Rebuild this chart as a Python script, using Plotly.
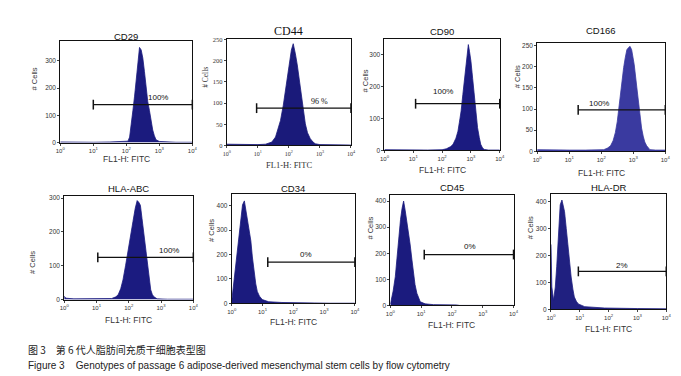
import numpy as np
import plotly.graph_objects as go

W, H = 681, 376

# ---- data (log10 FL1-H intensity, cell counts) ----
names = ["CD29", "CD44", "CD90", "CD166", "HLA-ABC", "CD34", "CD45", "HLA-DR"]

cd29_log = [0.0, 0.5, 1.0, 1.5, 1.9, 2.05, 2.1, 2.15, 2.2, 2.25, 2.3, 2.35, 2.4, 2.45, 2.5, 2.55, 2.6, 2.65, 2.7, 2.75, 2.8, 2.85, 2.9, 3.0, 3.2, 3.5, 4.0]
cd29_cnt = [2, 1, 1, 2, 3, 5, 20, 60, 118, 170, 240, 300, 349, 340, 310, 260, 200, 150, 118, 80, 46, 25, 10, 4, 2, 1, 1]

cd44_log = [0.0, 0.5, 1.0, 1.25, 1.45, 1.57, 1.65, 1.73, 1.82, 1.9, 1.96, 2.02, 2.08, 2.14, 2.18, 2.21, 2.27, 2.32, 2.38, 2.43, 2.48, 2.53, 2.6, 2.69, 2.78, 2.85, 3.0, 3.5, 4.0]
cd44_cnt = [3, 2, 2, 3, 8, 20, 38, 59, 95, 138, 172, 200, 225, 240, 228, 216, 190, 161, 130, 106, 78, 51, 30, 16, 8, 4, 2, 2, 1]

cd90_log = [0.0, 0.5, 1.0, 1.5, 2.0, 2.15, 2.3, 2.38, 2.48, 2.55, 2.6, 2.66, 2.72, 2.78, 2.85, 2.91, 2.95, 3.0, 3.06, 3.12, 3.18, 3.23, 3.29, 3.34, 3.4, 3.46, 3.6, 4.0]
cd90_cnt = [2, 1, 1, 1, 2, 5, 12, 19, 38, 60, 88, 123, 175, 227, 290, 331, 310, 279, 225, 165, 112, 71, 40, 19, 8, 3, 1, 1]

cd166_log = [0.0, 0.5, 1.0, 1.5, 2.0, 2.08, 2.2, 2.29, 2.37, 2.44, 2.5, 2.54, 2.6, 2.65, 2.7, 2.75, 2.8, 2.85, 2.9, 2.95, 3.03, 3.11, 3.16, 3.21, 3.26, 3.31, 3.36, 3.42, 3.52, 3.7, 4.0]
cd166_cnt = [4, 3, 3, 3, 3, 4, 8, 13, 25, 44, 70, 98, 135, 167, 198, 221, 240, 245, 248, 240, 205, 152, 115, 82, 55, 36, 22, 13, 4, 3, 3]

hlaabc_log = [0.0, 0.05, 0.3, 1.0, 1.47, 1.6, 1.67, 1.75, 1.82, 1.9, 1.97, 2.05, 2.13, 2.2, 2.26, 2.31, 2.36, 2.41, 2.46, 2.52, 2.58, 2.63, 2.68, 2.73, 2.78, 2.88, 3.2, 4.0]
hlaabc_cnt = [10, 4, 2, 2, 3, 8, 14, 32, 58, 100, 144, 190, 231, 270, 293, 288, 279, 240, 202, 148, 96, 58, 29, 15, 8, 2, 1, 1]

cd34_log = [0.0, 0.03, 0.08, 0.14, 0.2, 0.25, 0.3, 0.35, 0.41, 0.46, 0.51, 0.56, 0.62, 0.67, 0.73, 0.78, 0.83, 0.9, 0.99, 1.2, 1.63, 2.0, 2.38, 2.7, 3.2, 4.0]
cd34_cnt = [10, 43, 105, 176, 250, 309, 360, 403, 419, 380, 336, 300, 256, 190, 123, 80, 49, 30, 16, 7, 4, 4, 5, 2, 1, 1]

cd45_log = [0.0, 0.02, 0.09, 0.16, 0.22, 0.27, 0.33, 0.38, 0.43, 0.48, 0.54, 0.59, 0.64, 0.7, 0.75, 0.8, 0.86, 0.92, 0.97, 1.13, 1.4, 2.14, 2.25, 3.0, 4.0]
cd45_cnt = [5, 16, 55, 110, 190, 260, 330, 372, 400, 365, 322, 280, 235, 175, 122, 80, 47, 25, 14, 6, 3, 2, 0, 0, 0]

hladr_log = [0.0, 0.01, 0.03, 0.09, 0.15, 0.2, 0.24, 0.28, 0.32, 0.38, 0.42, 0.47, 0.53, 0.58, 0.64, 0.7, 0.76, 0.81, 0.88, 0.95, 1.17, 1.86, 3.0, 4.0]
hladr_cnt = [241, 180, 83, 34, 83, 160, 241, 320, 388, 406, 390, 363, 300, 241, 175, 120, 75, 46, 30, 20, 10, 5, 3, 2]

hist_logs = [cd29_log, cd44_log, cd90_log, cd166_log, hlaabc_log, cd34_log, cd45_log, hladr_log]
hist_cnts = [cd29_cnt, cd44_cnt, cd90_cnt, cd166_cnt, hlaabc_cnt, cd34_cnt, cd45_cnt, hladr_cnt]

# gate: start/end (log10), level (count), label and its position
gate_start = [1.0, 0.96, 1.08, 1.28, 1.04, 1.17, 1.1, 0.95]
gate_end = [4.0, 4.0, 4.0, 4.0, 4.0, 4.0, 4.0, 4.0]
gate_level = [139, 88, 146, 98, 125, 169, 195, 141]
gate_text = ["100%", "96 %", "100%", "100%", "100%", "0%", "0%", "2%"]
label_log = [2.95, 3.0, 2.04, 1.93, 3.24, 2.4, 2.57, 2.48]
label_cnt = [165, 104, 185, 114, 144, 198, 224, 164]

y_max = [371, 250, 347, 255, 308, 449, 425, 430]
y_dtick = [100, 50, 100, 50, 100, 100, 100, 100]

x_tickvals = [1, 10, 100, 1000, 10000]
x_ticktext = ["10<sup>0</sup>", "10<sup>1</sup>", "10<sup>2</sup>", "10<sup>3</sup>", "10<sup>4</sup>"]

# ---- layout geometry (pixel boxes: left, right, top, bottom) ----
boxes = [(48, 182, 30, 133), (217, 343, 28, 136), (377, 494, 28, 141), (532, 662, 32, 142),
         (52, 183, 187, 293), (222, 347, 185, 297), (383, 508, 186, 299), (546, 663, 185, 303)]
title_y = [25, 19, 20, 19, 180, 180, 179, 179]
xtitle_y = [150, 156, 161, 164, 314, 316, 319, 323]
ytitle_pos = [(22, 68), (196, 67), (358, 70), (512, 66), (20, 255), (202, 223), (363, 220), (526, 220)]

fill_col = ["#1b1b7e", "#1a1a7a", "#1b1b80", "#3a3aa0", "#1b1b80", "#1b1b7e", "#1b1b7e", "#202080"]

fig = go.Figure()
layout = dict(width=W, height=H, margin=dict(l=0, r=0, t=0, b=0),
              paper_bgcolor="white", plot_bgcolor="white", showlegend=False,
              font=dict(family="Liberation Sans, Arial", color="#222"))
annotations = []

def px(x):
    return x / W

def py(y):
    return 1 - y / H

for i in range(8):
    n = i + 1
    xa = "x" if n == 1 else f"x{n}"
    ya = "y" if n == 1 else f"y{n}"
    l, r, t, b = boxes[i]
    serif = (i == 1)
    fam = "Liberation Serif, Times New Roman" if serif else "Liberation Sans, Arial"
    xs = [10 ** v for v in hist_logs[i]]
    fig.add_trace(go.Scatter(x=xs, y=hist_cnts[i], xaxis=xa, yaxis=ya, mode="lines",
                             line=dict(color=fill_col[i], width=0.8), fill="tozeroy",
                             fillcolor=fill_col[i], hoverinfo="skip"))
    gx = [10 ** gate_start[i], 10 ** gate_end[i]]
    fig.add_trace(go.Scatter(x=gx, y=[gate_level[i]] * 2, xaxis=xa, yaxis=ya, mode="lines+markers",
                             line=dict(color="#111", width=1.3),
                             marker=dict(symbol="line-ns", size=7, line=dict(color="#111", width=1.5)),
                             hoverinfo="skip", cliponaxis=False))
    layout["xaxis" + ("" if n == 1 else str(n))] = dict(
        domain=[px(l), px(r)], anchor=ya, type="log", range=[0, 4],
        tickvals=x_tickvals, ticktext=x_ticktext, ticks="outside", ticklen=2,
        tickfont=dict(size=6, family=fam, color="#333"), showline=True, linecolor="#111",
        linewidth=1, mirror=True, showgrid=False, zeroline=False)
    layout["yaxis" + ("" if n == 1 else str(n))] = dict(
        domain=[py(b), py(t)], anchor=xa, range=[0, y_max[i]], dtick=y_dtick[i],
        ticks="outside", ticklen=2, tickfont=dict(size=6.5, family=fam, color="#333"),
        showline=True, linecolor="#111", linewidth=1, mirror=True, showgrid=False,
        zeroline=False)
    # gate label
    annotations.append(dict(x=label_log[i], y=label_cnt[i], xref=xa, yref=ya, text=gate_text[i],
                            showarrow=False, font=dict(size=8, family=fam, color="#111"),
                            xanchor="center", yanchor="middle"))
    # title
    annotations.append(dict(x=px((l + r) / 2), y=py(title_y[i]), xref="paper", yref="paper",
                            text=names[i], showarrow=False,
                            font=dict(size=12 if serif else 9.5, family=fam, color="#111"),
                            xanchor="center", yanchor="middle"))
    # x title
    annotations.append(dict(x=px((l + r) / 2), y=py(xtitle_y[i]), xref="paper", yref="paper",
                            text="FL1-H: FITC", showarrow=False,
                            font=dict(size=8.5, family=fam, color="#333"),
                            xanchor="center", yanchor="middle"))
    # y title
    yx, yy = ytitle_pos[i]
    annotations.append(dict(x=px(yx), y=py(yy), xref="paper", yref="paper", text="# Cells",
                            showarrow=False, textangle=-90,
                            font=dict(size=7.5, family=fam, color="#333"),
                            xanchor="center", yanchor="middle"))

# captions
annotations.append(dict(x=px(13), y=py(344), xref="paper", yref="paper",
                        text="图 3　第 6 代人脂肪间充质干细胞表型图", showarrow=False,
                        font=dict(size=10, family="Noto Sans CJK SC", color="#222"),
                        xanchor="left", yanchor="middle"))
annotations.append(dict(x=px(13), y=py(360), xref="paper", yref="paper",
                        text="Figure 3    Genotypes of passage 6 adipose-derived mesenchymal stem cells by flow cytometry",
                        showarrow=False, font=dict(size=10, family="Liberation Sans, Arial", color="#222"),
                        xanchor="left", yanchor="middle"))

layout["annotations"] = annotations
fig.update_layout(**layout)
fig.write_html("out.html")
